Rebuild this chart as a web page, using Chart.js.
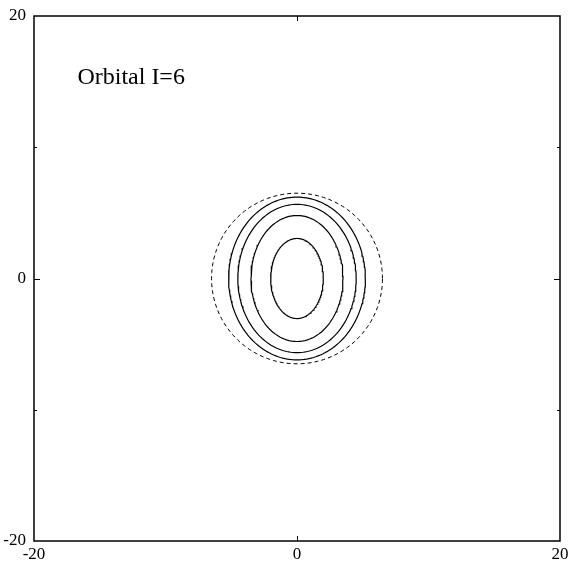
<!DOCTYPE html>
<html>
<head>
<meta charset="utf-8">
<script src="https://cdn.jsdelivr.net/npm/chart.js@4/dist/chart.umd.min.js"></script>
<style>
  html, body { margin: 0; padding: 0; background: #fff; }
  #wrap { width: 568px; height: 566px; }
</style>
</head>
<body>
<div id="wrap"><canvas id="myChart"></canvas></div>
<script>
// axis ranges and tick values
const xRange = [-20, 20];
const yRange = [-20, 20];
const xTickLabels = [-20, 0, 20];
const yTickLabels = [-20, 0, 20];
const xMarks = [0];
const yMarks = [0];
const yMinorMarks = [-10, 10];

// contour levels: semi-axes of each closed contour (x half-width, y half-height)
const contourSemiX = [2.0, 3.5, 4.5, 5.2];
const contourSemiY = [3.05, 4.8, 5.65, 6.2];
// dashed boundary circle
const boundaryRadius = 6.5;

const titleText = 'Orbital I=6';
const serif = '"Liberation Serif", "Times New Roman", serif';

// closed curve through the contour's semi-axes
function contour(a, b) {
    const pts = [];
    for (let k = 0; k <= 180; k++) {
        const t = 2 * Math.PI * k / 180;
        pts.push({ x: a * Math.cos(t), y: b * Math.sin(t) });
    }
    return pts;
}

const datasets = contourSemiX.map((a, i) => ({
    data: contour(a, contourSemiY[i]),
    showLine: true,
    borderColor: '#000',
    borderWidth: 1.2,
    pointRadius: 0,
    tension: 0
}));
datasets.push({
    data: contour(boundaryRadius, boundaryRadius),
    showLine: true,
    borderColor: '#000',
    borderWidth: 1,
    borderDash: [4, 3],
    pointRadius: 0,
    tension: 0
});

// frame, inward tick marks and the title text
const framePlugin = {
    id: 'frame',
    afterDraw(chart) {
        const ctx = chart.ctx;
        const a = chart.chartArea;
        const xs = chart.scales.x, ys = chart.scales.y;
        ctx.save();
        ctx.strokeStyle = '#000';
        ctx.lineWidth = 1;
        ctx.beginPath();
        xMarks.forEach(v => {
            const px = Math.round(xs.getPixelForValue(v)) + 0.5;
            ctx.moveTo(px, a.bottom); ctx.lineTo(px, a.bottom - 5);
            ctx.moveTo(px, a.top); ctx.lineTo(px, a.top + 5);
        });
        yMarks.forEach(v => {
            const py = Math.round(ys.getPixelForValue(v)) + 0.5;
            ctx.moveTo(a.left, py); ctx.lineTo(a.left + 6, py);
            ctx.moveTo(a.right, py); ctx.lineTo(a.right - 6, py);
        });
        yMinorMarks.forEach(v => {
            const py = Math.round(ys.getPixelForValue(v)) + 0.5;
            ctx.moveTo(a.left, py); ctx.lineTo(a.left + 3, py);
            ctx.moveTo(a.right, py); ctx.lineTo(a.right - 3, py);
        });
        ctx.stroke();
        ctx.lineWidth = 1.5;
        ctx.strokeRect(a.left, a.top, a.right - a.left, a.bottom - a.top);

        ctx.fillStyle = '#000';
        ctx.font = '24px ' + serif;
        ctx.textAlign = 'left';
        ctx.textBaseline = 'alphabetic';
        ctx.fillText(titleText, xs.getPixelForValue(-16.7), ys.getPixelForValue(14.8));
        ctx.restore();
    }
};

const ctx = document.getElementById('myChart').getContext('2d');
const myChart = new Chart(ctx, {
    type: 'scatter',
    data: { datasets: datasets },
    options: {
        responsive: true,
        maintainAspectRatio: false,
        animation: false,
        layout: { padding: { top: 16, right: 8, left: 0, bottom: 0 } },
        plugins: { legend: { display: false }, tooltip: { enabled: false } },
        scales: {
            x: {
                type: 'linear',
                min: xRange[0],
                max: xRange[1],
                grid: { display: false, drawTicks: false, tickLength: 0 },
                border: { display: false },
                afterBuildTicks: s => { s.ticks = xTickLabels.map(v => ({ value: v })); },
                afterFit: s => { s.height = 25; s.paddingLeft = 0; s.paddingRight = 0; },
                ticks: {
                    color: '#000',
                    font: { family: serif, size: 17 },
                    padding: 3,
                    maxRotation: 0,
                    autoSkip: false
                }
            },
            y: {
                type: 'linear',
                min: yRange[0],
                max: yRange[1],
                grid: { display: false, drawTicks: false, tickLength: 0 },
                border: { display: false },
                afterBuildTicks: s => { s.ticks = yTickLabels.map(v => ({ value: v })); },
                afterFit: s => { s.width = 34; s.paddingTop = 0; s.paddingBottom = 0; },
                ticks: {
                    color: '#000',
                    font: { family: serif, size: 17 },
                    padding: 8,
                    autoSkip: false
                }
            }
        }
    },
    plugins: [framePlugin]
});
</script>
</body>
</html>
